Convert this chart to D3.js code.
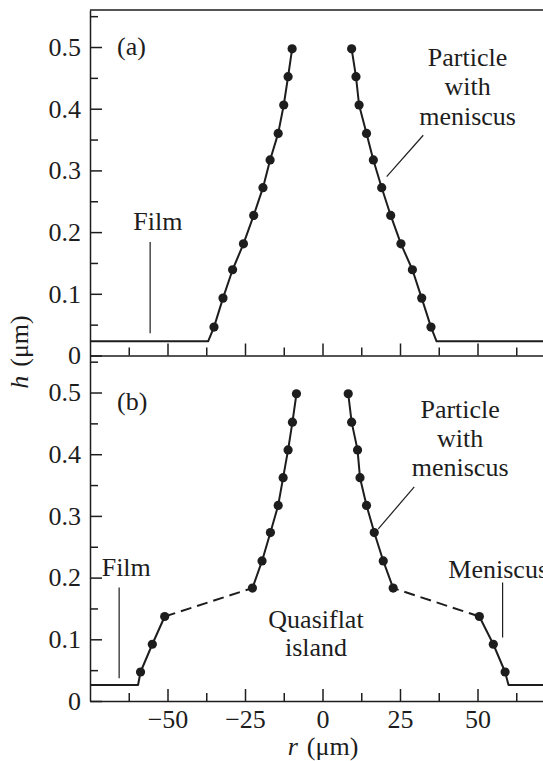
<!DOCTYPE html>
<html>
<head>
<meta charset="utf-8">
<script src="https://cdn.jsdelivr.net/npm/d3@7"></script>
<style>
  body { margin: 0; background: #fff; }
  svg { display: block; font-family: 'Liberation Serif', 'Times New Roman', serif; }
</style>
</head>
<body>
<svg id="chart" width="543" height="761"></svg>
<script>
// Panel (a): particle with meniscus sitting on a thin film
const filmA = 0.023;
const filmEdgeA = [-36.9, 36.8];
const leftRA  = [-35.0, -32.1, -29.0, -25.5, -22.2, -19.2, -16.9, -14.3, -12.5, -11.1, -9.8];
const leftHA  = [0.046, 0.093, 0.139, 0.181, 0.227, 0.272, 0.317, 0.360, 0.406, 0.452, 0.497];
const rightRA = [35.0, 32.0, 29.0, 25.3, 22.0, 19.1, 16.4, 14.2, 11.8, 10.8, 9.4];
const rightHA = [0.046, 0.093, 0.139, 0.181, 0.227, 0.272, 0.317, 0.360, 0.406, 0.452, 0.497];

// Panel (b): particle on a quasiflat island (first 3 points = outer meniscus)
const filmB = 0.026;
const filmEdgeB = [-59.5, 60.0];
const leftRB  = [-58.7, -54.9, -50.9, -22.6, -19.5, -16.8, -14.3, -12.7, -11.1, -9.7, -8.4];
const leftHB  = [0.047, 0.092, 0.137, 0.183, 0.227, 0.273, 0.317, 0.362, 0.407, 0.452, 0.498];
const rightRB = [58.9, 55.1, 50.6, 22.8, 19.6, 16.7, 14.2, 12.1, 11.3, 9.4, 8.3];
const rightHB = [0.047, 0.092, 0.137, 0.183, 0.227, 0.273, 0.317, 0.362, 0.407, 0.452, 0.498];
const islandBreak = 3;

// Ticks
const yMajor = [0, 0.1, 0.2, 0.3, 0.4, 0.5];
const yMinor = [0.05, 0.15, 0.25, 0.35, 0.45, 0.55];
const xMajor = [-50, -25, 0, 25, 50];
const xMinor = [-62.5, -37.5, -12.5, 12.5, 37.5, 62.5];

const ink = '#1d1d1d';
const fontSize = 26;
const serif = "'Liberation Serif', 'Times New Roman', serif";
const svg = d3.select('#chart');

const x = d3.scaleLinear().domain([-75, 75]).range([90, 555]);
const yA = d3.scaleLinear().domain([0, 0.56]).range([355.5, 10]);
const yB = d3.scaleLinear().domain([0, 0.56]).range([701, 355.5]);

function styleAxis(g) {
  g.attr('font-family', serif).attr('font-size', fontSize);
  g.selectAll('path, line').attr('stroke', ink).attr('stroke-width', 1.5);
  g.selectAll('text').attr('fill', ink);
}

function drawAxes(y, withXLabels) {
  const x0 = x.range()[0];
  const yBase = y(0);

  svg.append('g')
    .attr('transform', `translate(${x0},0)`)
    .call(d3.axisLeft(y).tickValues(yMinor).tickSizeInner(-8).tickSizeOuter(0).tickFormat(''))
    .call(styleAxis);
  svg.append('g')
    .attr('transform', `translate(${x0},0)`)
    .call(d3.axisLeft(y).tickValues(yMajor).tickSizeInner(-12).tickSizeOuter(0).tickPadding(9)
      .tickFormat(d => d === 0 ? '0' : d3.format('.1f')(d)))
    .call(styleAxis)
    .call(g => g.select('.domain').remove());

  svg.append('g')
    .attr('transform', `translate(0,${yBase})`)
    .call(d3.axisBottom(x).tickValues(xMinor).tickSizeInner(-8).tickSizeOuter(0).tickFormat(''))
    .call(styleAxis);
  svg.append('g')
    .attr('transform', `translate(0,${yBase})`)
    .call(d3.axisBottom(x).tickValues(xMajor).tickSizeInner(-12).tickSizeOuter(0).tickPadding(9)
      .tickFormat(withXLabels ? d3.format('d') : ''))
    .call(styleAxis)
    .call(g => g.select('.domain').remove());
}

const line = (y) => d3.line().x(d => x(d[0])).y(d => y(d[1]));

function drawPath(y, pts, dashed) {
  svg.append('path')
    .datum(pts)
    .attr('fill', 'none')
    .attr('stroke', ink)
    .attr('stroke-width', 2)
    .attr('stroke-linejoin', 'round')
    .attr('stroke-dasharray', dashed ? '11,6' : null)
    .attr('d', line(y));
}

function drawDots(y, pts) {
  svg.append('g')
    .selectAll('circle')
    .data(pts)
    .enter()
    .append('circle')
    .attr('r', 4.6)
    .attr('fill', ink)
    .attr('cx', d => x(d[0]))
    .attr('cy', d => y(d[1]));
}

function label(y, r, h, txt, anchor, step) {
  const t = svg.append('text')
    .attr('x', x(r))
    .attr('y', y(h))
    .attr('fill', ink)
    .attr('font-size', fontSize)
    .attr('text-anchor', anchor || 'start');
  txt.split('\n').forEach((s, i) => {
    t.append('tspan')
      .attr('x', x(r))
      .attr('dy', i === 0 ? 0 : (step || 29.5))
      .text(s);
  });
}

function leader(y, r1, h1, r2, h2) {
  svg.append('line')
    .attr('x1', x(r1)).attr('y1', y(h1))
    .attr('x2', x(r2)).attr('y2', y(h2))
    .attr('stroke', ink)
    .attr('stroke-width', 1.2);
}

// ---------- panel (a)
drawAxes(yA, false);
svg.append('line')
  .attr('x1', x(-75)).attr('x2', x(75))
  .attr('y1', yA(0.56)).attr('y2', yA(0.56))
  .attr('stroke', ink).attr('stroke-width', 1.5);

const ptsLA = d3.zip(leftRA, leftHA);
const ptsRA = d3.zip(rightRA, rightHA);
drawPath(yA, [[-75, filmA], [filmEdgeA[0], filmA], ...ptsLA], false);
drawPath(yA, [[75, filmA], [filmEdgeA[1], filmA], ...ptsRA], false);
drawDots(yA, ptsLA);
drawDots(yA, ptsRA);

label(yA, -66.3, 0.487, '(a)');
label(yA, -53.1, 0.203, 'Film', 'middle');
leader(yA, -55.6, 0.184, -55.6, 0.036);
label(yA, 46.8, 0.470, 'Particle\nwith\nmeniscus', 'middle');
leader(yA, 32.5, 0.357, 20.7, 0.290);

// ---------- panel (b)
drawAxes(yB, true);

const ptsLB = d3.zip(leftRB, leftHB);
const ptsRB = d3.zip(rightRB, rightHB);
drawPath(yB, [[-75, filmB], [filmEdgeB[0], filmB], ...ptsLB.slice(0, islandBreak)], false);
drawPath(yB, ptsLB.slice(islandBreak - 1, islandBreak + 1), true);
drawPath(yB, ptsLB.slice(islandBreak), false);
drawPath(yB, [[75, filmB], [filmEdgeB[1], filmB], ...ptsRB.slice(0, islandBreak)], false);
drawPath(yB, ptsRB.slice(islandBreak - 1, islandBreak + 1), true);
drawPath(yB, ptsRB.slice(islandBreak), false);
drawDots(yB, ptsLB);
drawDots(yB, ptsRB);

label(yB, -66.3, 0.472, '(b)');
label(yB, -63.3, 0.203, 'Film', 'middle');
leader(yB, -65.6, 0.184, -65.6, 0.037);
label(yB, 44.4, 0.458, 'Particle\nwith\nmeniscus', 'middle', 28.7);
leader(yB, 29.6, 0.347, 18.0, 0.279);
label(yB, 40.6, 0.200, 'Meniscus');
leader(yB, 58.1, 0.192, 58.1, 0.103);
label(yB, -2.1, 0.119, 'Quasiflat\nisland', 'middle', 28.3);

// ---------- axis titles
const xt = svg.append('text')
  .attr('x', 323).attr('y', 755)
  .attr('text-anchor', 'middle')
  .attr('fill', ink)
  .attr('font-size', fontSize);
xt.append('tspan').attr('font-style', 'italic').text('r');
xt.append('tspan').attr('dx', 9).text('(μm)');

const yt = svg.append('text')
  .attr('transform', 'translate(27.5,352) rotate(-90)')
  .attr('text-anchor', 'middle')
  .attr('fill', ink)
  .attr('font-size', fontSize);
yt.append('tspan').attr('font-style', 'italic').text('h');
yt.append('tspan').attr('dx', 9).text('(μm)');
</script>
</body>
</html>
